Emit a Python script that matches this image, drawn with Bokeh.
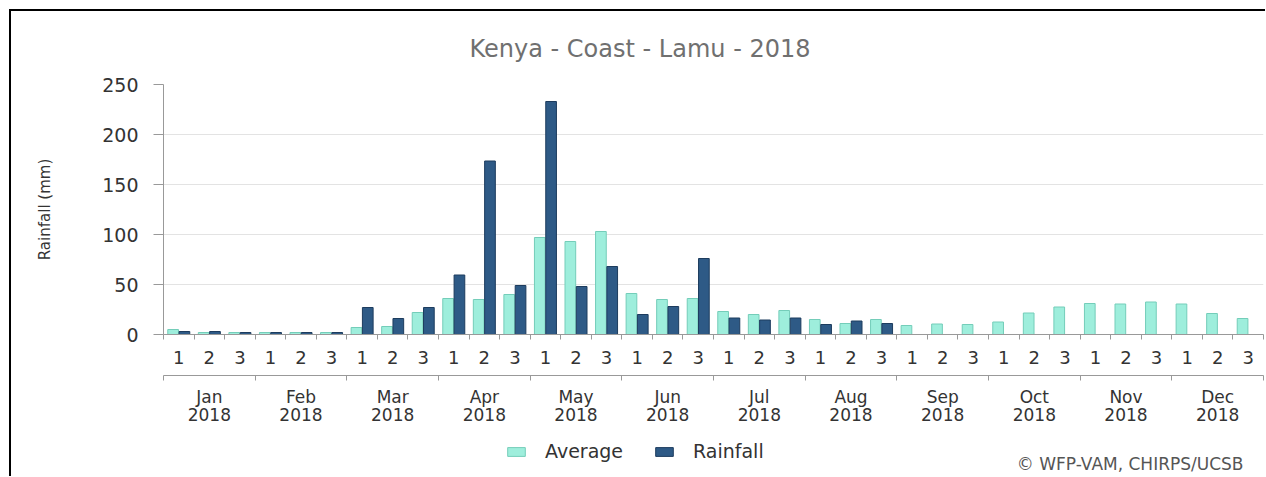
import numpy as np
from bokeh.plotting import figure
from bokeh.layouts import column
from bokeh.models import (Range1d, LinearAxis, FixedTicker, Legend, LegendItem,
                          Label, ColumnDataSource)
from bokeh.transform import dodge
from bokeh.embed import file_html
from bokeh.resources import INLINE

# ---------------- data ----------------
title_text = "Kenya - Coast - Lamu - 2018"
credit_text = "© WFP-VAM, CHIRPS/UCSB"
months = ["Jan", "Feb", "Mar", "Apr", "May", "Jun",
          "Jul", "Aug", "Sep", "Oct", "Nov", "Dec"]
year = "2018"
dekads = ["1", "2", "3"]
y_ticks = [0, 50, 100, 150, 200, 250]
series_names = ["Average", "Rainfall"]

average = [5, 2, 2, 2, 2, 2,
           7, 8, 22, 36, 35, 40,
           97, 93, 103, 41, 35, 36,
           23, 20, 24, 15, 11, 15,
           9, 10.5, 10, 12.5, 21.5, 27.5,
           31, 30.5, 32.5, 30.5, 21, 16]
rainfall = [3, 3, 2, 2, 2, 2,
            27, 16, 27, 59.5, 173.5, 49,
            233, 48, 68, 20, 28, 76,
            16.5, 14.5, 16.5, 10, 13.5, 11]

FONT = "DejaVu Sans"
AVG_FILL, AVG_LINE = "#9eeedc", "#74cdb9"
RAIN_FILL, RAIN_LINE = "#2e5a86", "#1d3c5e"
AXIS_GREY = "#999999"

n = len(months) * len(dekads)
rain_full = rainfall + [float("nan")] * (n - len(rainfall))
src = ColumnDataSource(dict(x=np.arange(n), avg=average, rain=rain_full))

p = figure(width=1254, height=416,
           x_range=Range1d(-0.5, n - 0.5), y_range=Range1d(y_ticks[0], y_ticks[-1]),
           x_axis_type=None, output_backend="svg", toolbar_location=None,
           min_border_left=152, min_border_right=2, min_border_top=71,
           min_border_bottom=91)
p.outline_line_color = None

# title
p.title.text = title_text
p.title.align = "left"
p.title.offset = 306
p.title.text_font = FONT
p.title.text_font_size = "24px"
p.title.text_font_style = "normal"
p.title.text_color = "#707070"
p.title.standoff = 43

# bars
r_avg = p.vbar(x=dodge("x", -0.185), top="avg", width=0.35, source=src,
               fill_color=AVG_FILL, line_color=AVG_LINE, line_width=1)
r_rain = p.vbar(x=dodge("x", 0.185), top="rain", width=0.35, source=src,
                fill_color=RAIN_FILL, line_color=RAIN_LINE, line_width=1)

# y axis
ya = p.yaxis[0]
ya.ticker = FixedTicker(ticks=y_ticks)
ya.axis_label = "Rainfall (mm)"
ya.axis_label_text_font = FONT
ya.axis_label_text_font_size = "15px"
ya.axis_label_text_font_style = "normal"
ya.axis_label_text_color = "#333333"
ya.axis_label_standoff = 45
ya.major_label_text_font = FONT
ya.major_label_text_font_size = "19px"
ya.major_label_text_color = "#333333"
ya.major_label_standoff = 15
ya.major_tick_out = 10
ya.major_tick_in = 0
ya.minor_tick_line_color = None
ya.axis_line_color = AXIS_GREY
ya.major_tick_line_color = AXIS_GREY
p.ygrid.ticker = FixedTicker(ticks=y_ticks)
p.ygrid.grid_line_color = "#e3e3e3"

# dekad axis
centers = list(range(n))
bounds = [i - 0.5 for i in range(n + 1)]
dek_axis = LinearAxis(
    ticker=FixedTicker(ticks=centers, minor_ticks=bounds),
    major_label_overrides={i: dekads[i % 3] for i in centers},
    axis_line_color=AXIS_GREY, axis_line_width=1,
    major_tick_line_color=None, major_tick_out=5, major_tick_in=0,
    minor_tick_line_color=AXIS_GREY, minor_tick_out=5, minor_tick_in=0,
    major_label_standoff=11,
    major_label_text_font=FONT, major_label_text_font_size="18px",
    major_label_text_color="#333333",
    axis_label=" ", axis_label_text_font_size="5px", axis_label_standoff=0)
p.add_layout(dek_axis, "below")

# month axis
m_centers = [3 * i + 1 for i in range(len(months))]
m_bounds = [3 * i - 0.5 for i in range(len(months) + 1)]
mon_axis = LinearAxis(
    ticker=FixedTicker(ticks=m_centers, minor_ticks=m_bounds),
    major_label_overrides={c: f"{m}\n{year}" for c, m in zip(m_centers, months)},
    axis_line_color=AXIS_GREY, axis_line_width=1,
    major_tick_line_color=None, major_tick_out=5, major_tick_in=0,
    minor_tick_line_color=AXIS_GREY, minor_tick_out=5, minor_tick_in=0,
    major_label_standoff=6, major_label_text_line_height=0.92,
    major_label_text_font=FONT, major_label_text_font_size="17px",
    major_label_text_color="#333333")
p.add_layout(mon_axis, "below")

# ---------- legend + credit strip ----------
p2 = figure(width=1254, height=49, x_range=Range1d(-0.5, n - 0.5), y_range=Range1d(-20, -10),
            x_axis_type=None, y_axis_type=None, output_backend="svg",
            toolbar_location=None, min_border=0)
p2.outline_line_color = None
p2.xgrid.visible = False
p2.ygrid.visible = False
# same series, hidden in this strip: only their legend swatches show
l_avg = p2.vbar(x="x", top="avg", width=0.35, source=src,
                fill_color=AVG_FILL, line_color=AVG_LINE, visible=False)
l_rain = p2.vbar(x="x", top="rain", width=0.35, source=src,
                 fill_color=RAIN_FILL, line_color=RAIN_LINE, visible=False)
legend = Legend(items=[LegendItem(label=series_names[0], renderers=[l_avg]),
                       LegendItem(label=series_names[1], renderers=[l_rain])],
                orientation="horizontal", location=(342, 14),
                label_text_font=FONT, label_text_font_size="19px",
                label_text_color="#333333",
                glyph_width=22, glyph_height=11, label_standoff=18,
                spacing=30, padding=0, margin=0,
                border_line_color=None, background_fill_alpha=0)
p2.add_layout(legend, "center")
credit = Label(text=credit_text, x=1080, y=13, x_units="screen", y_units="screen",
               text_align="right", text_baseline="alphabetic",
               text_font=FONT, text_font_size="17px", text_color="#555555")
p2.add_layout(credit)

layout = column(p, p2, spacing=0,
                styles={"margin-left": "9px", "margin-top": "9px",
                        "border-left": "2px solid #000", "border-top": "2px solid #000"})

open("out.html", "w").write(file_html(layout, INLINE))
